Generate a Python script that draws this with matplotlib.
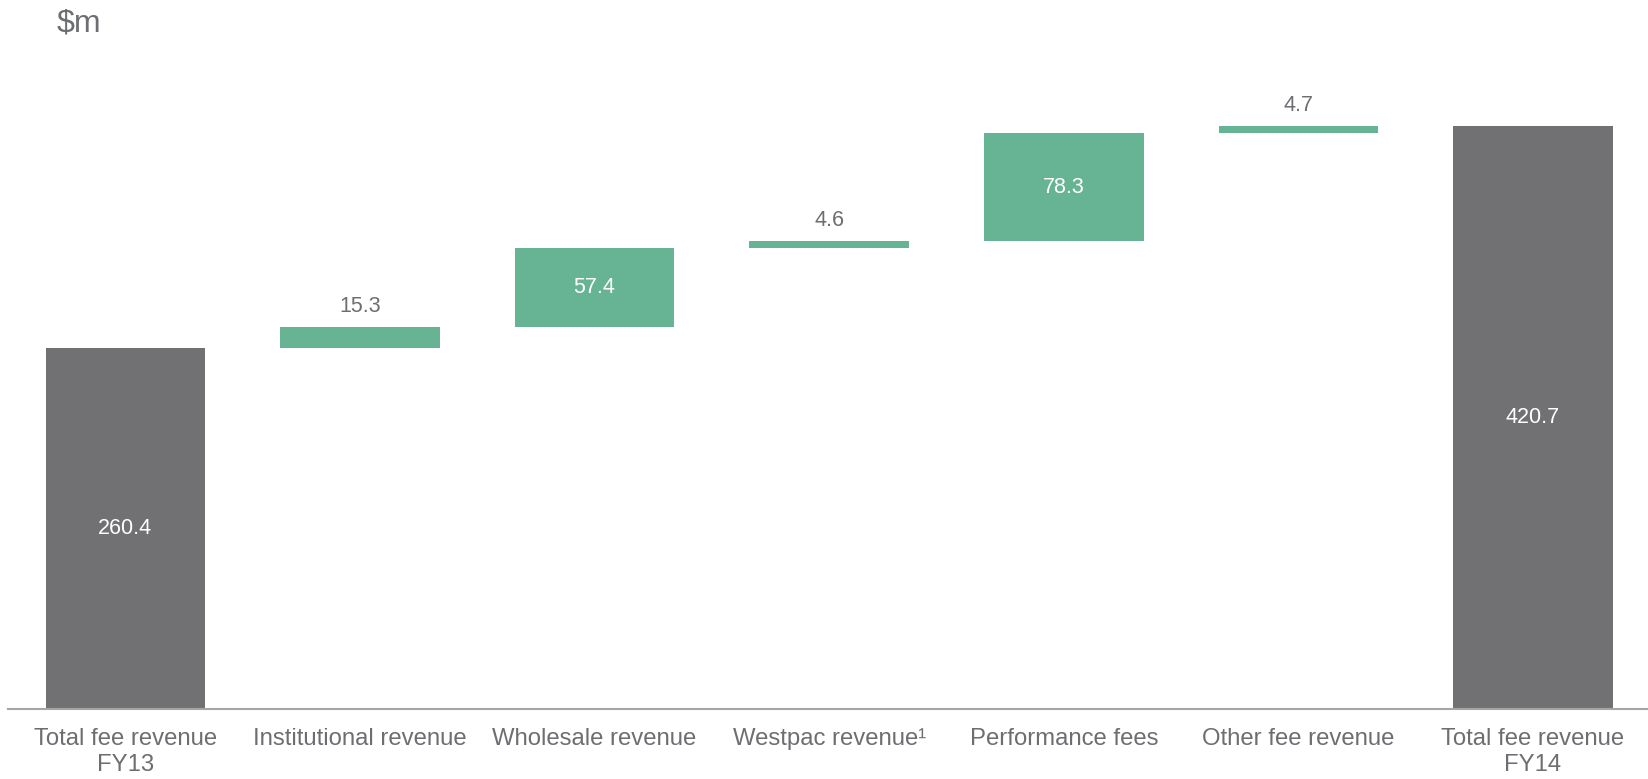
"""
Waterfall chart of fee revenue FY13 -> FY14.
"""

import matplotlib

matplotlib.use("Agg")
import matplotlib.pyplot as plt
import numpy as np

plt.rcParams["font.family"] = ["Liberation Sans", "DejaVu Sans"]

# Data
categories = [
    "Total fee revenue\nFY13",
    "Institutional revenue",
    "Wholesale revenue",
    "Westpac revenue\u00b9",
    "Performance fees",
    "Other fee revenue",
    "Total fee revenue\nFY14",
]
start_total = 260.4
changes = [15.3, 57.4, 4.6, 78.3, 4.7]
end_total = 420.7

GREY = "#717073"
GREEN = "#66b494"
TEXT = "#6d6e71"

# Build waterfall geometry
bottoms = [0.0]
heights = [start_total]
running = start_total
for c in changes:
    bottoms.append(running)
    heights.append(c)
    running += c
bottoms.append(0.0)
heights.append(end_total)
colors = [GREY] + [GREEN] * len(changes) + [GREY]

fig = plt.figure(figsize=(16.48, 7.79), dpi=100)
ax = fig.add_axes([8 / 1648, 0.0899, 1 - 8 / 1648, 0.9255 - 0.0899])

x = np.arange(len(categories))
ax.bar(x, heights, bottom=bottoms, width=0.68, color=colors, edgecolor="none")

# Value labels
for i, (b, h) in enumerate(zip(bottoms, heights)):
    if h > 30:
        ax.text(i, b + h / 2, f"{h:.1f}", ha="center", va="center",
                color="white", fontsize=15.5)
    else:
        ax.text(i, b + h + 15, f"{h:.1f}", ha="center", va="center",
                color=TEXT, fontsize=15.5)

ax.set_xlim(-0.5, 6.49)
ax.set_ylim(0, 470)
ax.set_xticks(x)
ax.set_xticklabels(categories, fontsize=17.2, color=TEXT, linespacing=1.2)
ax.tick_params(axis="x", length=0, pad=14)
ax.set_yticks([])
for side in ["top", "right", "left"]:
    ax.spines[side].set_visible(False)
ax.spines["bottom"].set_color("#a6a6a6")
ax.spines["bottom"].set_linewidth(1.5)

fig.text(57 / 1648, 1 - 23 / 779, "$m", fontsize=23, color=TEXT,
         ha="left", va="center")

fig.savefig("out.png", dpi=100)
